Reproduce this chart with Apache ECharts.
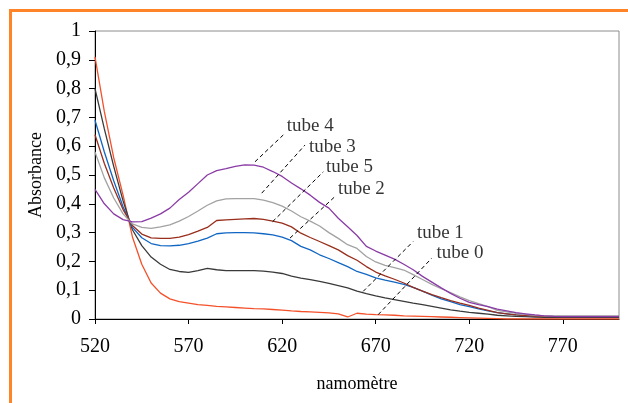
<!DOCTYPE html>
<html>
<head>
<meta charset="utf-8">
<script src="https://cdn.jsdelivr.net/npm/echarts@6/dist/echarts.min.js"></script>
<style>
html,body{margin:0;padding:0;background:#fff;}
#c{width:628px;height:403px;}
</style>
</head>
<body>
<div id="c"></div>
<script>
// Wavelengths (nm)
const wavelengths = [520,525,530,535,540,545,550,555,560,565,570,575,580,585,590,595,600,605,610,615,620,625,630,635,640,645,650,655,660,665,670,675,680,685,690,695,700,705,710,715,720,725,730,735,740,745,750,755,760,765,770,775,780,785,790,795,800];

const tube0 = [0.91,0.72,0.56,0.43,0.285,0.19,0.125,0.09,0.07,0.06,0.055,0.05,0.047,0.044,0.042,0.04,0.038,0.036,0.035,0.033,0.031,0.028,0.026,0.025,0.023,0.021,0.018,0.007,0.02,0.017,0.015,0.014,0.013,0.011,0.01,0.009,0.008,0.007,0.006,0.005,0.004,0.003,0.002,0.001,0,0,0,0,0,0,0,0,0,0,0,0,0];
const tube1 = [0.80,0.66,0.53,0.41,0.31,0.255,0.215,0.19,0.172,0.165,0.162,0.168,0.176,0.171,0.168,0.168,0.168,0.168,0.166,0.163,0.158,0.149,0.142,0.137,0.131,0.124,0.116,0.108,0.097,0.088,0.08,0.073,0.067,0.061,0.055,0.05,0.044,0.038,0.032,0.027,0.023,0.02,0.017,0.013,0.011,0.009,0.008,0.007,0.006,0.006,0.006,0.006,0.006,0.006,0.006,0.006,0.006];
const tube2 = [0.69,0.58,0.48,0.39,0.318,0.282,0.262,0.255,0.254,0.256,0.262,0.27,0.281,0.296,0.299,0.3,0.3,0.299,0.296,0.292,0.284,0.272,0.252,0.24,0.223,0.21,0.196,0.182,0.165,0.155,0.143,0.135,0.128,0.12,0.11,0.097,0.083,0.07,0.06,0.05,0.043,0.035,0.028,0.022,0.018,0.014,0.012,0.01,0.009,0.009,0.009,0.009,0.009,0.009,0.009,0.009,0.009];
const tube3 = [0.58,0.49,0.42,0.365,0.33,0.318,0.315,0.32,0.327,0.34,0.356,0.375,0.395,0.41,0.417,0.418,0.418,0.418,0.413,0.404,0.392,0.375,0.355,0.34,0.323,0.3,0.28,0.258,0.245,0.217,0.198,0.186,0.178,0.17,0.154,0.137,0.12,0.105,0.092,0.077,0.064,0.053,0.043,0.03,0.025,0.02,0.016,0.013,0.011,0.01,0.009,0.009,0.009,0.009,0.009,0.009,0.009];
const tube4 = [0.45,0.40,0.365,0.345,0.337,0.338,0.35,0.365,0.385,0.415,0.44,0.47,0.50,0.515,0.522,0.53,0.535,0.534,0.527,0.512,0.495,0.472,0.452,0.43,0.405,0.385,0.35,0.32,0.29,0.252,0.236,0.222,0.208,0.19,0.171,0.148,0.128,0.108,0.089,0.072,0.058,0.05,0.043,0.034,0.028,0.022,0.018,0.014,0.011,0.009,0.008,0.008,0.008,0.008,0.008,0.008,0.008];
const tube5 = [0.64,0.54,0.455,0.38,0.325,0.295,0.282,0.28,0.28,0.284,0.293,0.305,0.318,0.342,0.344,0.346,0.348,0.349,0.346,0.34,0.333,0.32,0.298,0.283,0.269,0.255,0.24,0.22,0.204,0.182,0.163,0.15,0.138,0.125,0.11,0.097,0.085,0.074,0.064,0.055,0.047,0.038,0.03,0.022,0.018,0.014,0.012,0.01,0.009,0.009,0.009,0.009,0.009,0.009,0.009,0.009,0.009];

// Annotations: label text, leader start [nm, abs], leader end [nm, abs], label anchor [nm, abs]
const annotNames = ['tube 4','tube 3','tube 5','tube 2','tube 1','tube 0'];
const leaderStart = [[605.5,0.546],[609.1,0.437],[614.9,0.338],[624.2,0.281],[663.3,0.096],[671.3,0.015]];
const leaderEnd = [[620.6,0.639],[632.2,0.604],[642.0,0.511],[648.2,0.425],[690.0,0.269],[699.9,0.211]];
const labelAnchor = [[622.5,0.670],[634.3,0.598],[643.4,0.529],[649.8,0.451],[692.0,0.300],[702.5,0.229]];

const yTicks = ['0','0,1','0,2','0,3','0,4','0,5','0,6','0,7','0,8','0,9','1'];

const FONT = '"Liberation Serif","Times New Roman",serif';

function pairs(arr){ return wavelengths.map((w,i)=>[w,arr[i]]); }

const curves = [
  {name:'tube 0', data:tube0, color:'#F4502A'},
  {name:'tube 1', data:tube1, color:'#3A3A3A'},
  {name:'tube 2', data:tube2, color:'#1166C4'},
  {name:'tube 5', data:tube5, color:'#982E1C'},
  {name:'tube 3', data:tube3, color:'#A2A2A2'},
  {name:'tube 4', data:tube4, color:'#8A3BA6'}
];

const series = curves.map(c=>({
  type:'line', name:c.name, data:pairs(c.data), showSymbol:false, symbol:'none',
  lineStyle:{color:c.color, width:1.3}, itemStyle:{color:c.color}, silent:true, animation:false, z:3
}));

annotNames.forEach((n,i)=>{
  series.push({
    type:'line', data:[leaderStart[i], leaderEnd[i]], symbol:'none', showSymbol:false,
    lineStyle:{color:'#000', width:1, type:[4,3]}, silent:true, animation:false, z:4
  });
});

series.push({
  type:'scatter', symbolSize:0, silent:true, animation:false, z:5,
  data: labelAnchor.map((p,i)=>({value:p, name:annotNames[i]})),
  label:{show:true, position:'right', distance:0, formatter:p=>p.name,
    fontFamily:FONT, fontSize:19, color:'#000', align:'left', verticalAlign:'middle'}
});

const chart = echarts.init(document.getElementById('c'), null, {renderer:'canvas'});
chart.setOption({
  animation:false,
  backgroundColor:'#fff',
  grid:{left:95, right:9, top:31, bottom:84, show:true, borderColor:'#8c8c8c', borderWidth:1, backgroundColor:'transparent'},
  xAxis:{
    type:'value', min:520, max:800, interval:50,
    name:'namomètre', nameLocation:'middle', nameGap:56,
    nameTextStyle:{fontFamily:FONT, fontSize:18, color:'#000'},
    axisLine:{show:true, onZero:false, lineStyle:{color:'#000', width:1}},
    axisTick:{show:true, length:5, lineStyle:{color:'#000'}},
    axisLabel:{fontFamily:FONT, fontSize:20, color:'#000', margin:18, showMaxLabel:false},
    splitLine:{show:false}
  },
  yAxis:{
    type:'value', min:0, max:1, interval:0.1,
    name:'Absorbance', nameLocation:'middle', nameGap:50, nameRotate:90,
    nameTextStyle:{fontFamily:FONT, fontSize:18, color:'#000'},
    axisLine:{show:true, lineStyle:{color:'#000', width:1}},
    axisTick:{show:true, length:6, lineStyle:{color:'#000'}},
    axisLabel:{fontFamily:FONT, fontSize:20, color:'#000', margin:14,
      formatter:(v)=>yTicks[Math.round(v*10)]},
    splitLine:{show:false}
  },
  graphic:[{
    type:'rect', left:null, shape:{x:10.5, y:10.5, width:1000, height:1000},
    style:{fill:'none', stroke:'#FF8428', lineWidth:3}, silent:true, z:0
  }],
  series:series
});
</script>
</body>
</html>
